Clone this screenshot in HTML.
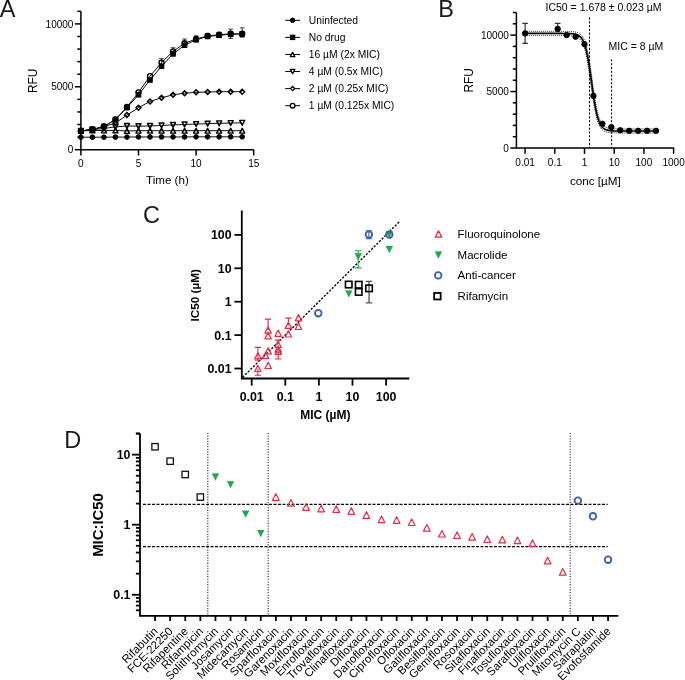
<!DOCTYPE html>
<html><head><meta charset="utf-8"><style>
html,body{margin:0;padding:0;background:#fff;}
body{width:685px;height:680px;overflow:hidden;font-family:"Liberation Sans",sans-serif;}
svg{display:block;will-change:transform;}
</style></head><body>
<svg width="685" height="680" viewBox="0 0 685 680">
<rect width="685" height="680" fill="#fff"/>
<g font-family="Liberation Sans, sans-serif" font-size="23.5" fill="#1a1a1a">
<text x="-0.2" y="17">A</text>
<text x="438.3" y="17">B</text>
<text x="142.9" y="222.8">C</text>
<text x="64.3" y="447.6">D</text>
</g>
<g stroke="#000" stroke-width="1.5" fill="none">
<path d="M80.9,11.32 V149.7 H253.7"/>
<path d="M74.9,149.7 H80.9"/>
<path d="M77.3,137.12 H80.9"/>
<path d="M77.3,124.54 H80.9"/>
<path d="M77.3,111.96 H80.9"/>
<path d="M77.3,99.38 H80.9"/>
<path d="M74.9,86.8 H80.9"/>
<path d="M77.3,74.22 H80.9"/>
<path d="M77.3,61.64 H80.9"/>
<path d="M77.3,49.06 H80.9"/>
<path d="M77.3,36.48 H80.9"/>
<path d="M74.9,23.9 H80.9"/>
<path d="M77.3,11.32 H80.9"/>
<path d="M80.9,149.7 V155.5"/>
<path d="M138.5,149.7 V155.5"/>
<path d="M196.1,149.7 V155.5"/>
<path d="M253.7,149.7 V155.5"/>
</g>
<g font-family="Liberation Sans, sans-serif" font-size="10" fill="#000">
<text x="73.4" y="153.3" text-anchor="end">0</text>
<text x="73.4" y="90.4" text-anchor="end">5000</text>
<text x="73.4" y="27.5" text-anchor="end">10000</text>
<text x="80.9" y="166.9" text-anchor="middle">0</text>
<text x="138.5" y="166.9" text-anchor="middle">5</text>
<text x="196.1" y="166.9" text-anchor="middle">10</text>
<text x="253.7" y="166.9" text-anchor="middle">15</text>
</g>
<text font-family="Liberation Sans, sans-serif" font-size="11.6" x="167.4" y="183.8" text-anchor="middle">Time (h)</text>
<text font-family="Liberation Sans, sans-serif" font-size="11.9" transform="translate(37,80.8) rotate(-90)" text-anchor="middle">RFU</text>
<g stroke="#111" stroke-width="1" fill="none">
<polyline points="80.9,137.19 92.42,137.19 103.94,137.19 115.46,137.07 126.98,137.07 138.5,136.94 150.02,136.94 161.54,136.94 173.06,136.94 184.58,136.94 196.1,136.82 207.62,136.82 219.14,136.82 230.66,136.82 242.18,136.82"/>
<polyline points="80.9,130.94 92.42,130.44 103.94,130.44 115.46,130.4 126.98,130.94 138.5,130.69 150.02,130.69 161.54,130.69 173.06,130.69 184.58,130.69 196.1,130.69 207.62,130.69 219.14,130.69 230.66,130.69 242.18,130.69"/>
<polyline points="80.9,130.94 92.42,129.69 103.94,128.44 115.46,126.9 126.98,125.94 138.5,126.19 150.02,125.94 161.54,125.44 173.06,124.94 184.58,124.44 196.1,124.06 207.62,123.69 219.14,123.31 230.66,123.06 242.18,122.81"/>
<polyline points="80.9,130.94 92.42,129.5 103.94,126.57 115.46,123 126.98,115.1 138.5,107.68 150.02,101.43 161.54,97.8 173.06,94.8 184.58,93.2 196.1,92.3 207.62,92 219.14,91.7 230.66,91.7 242.18,91.7"/>
<polyline points="80.9,130.94 92.42,129.5 103.94,126.5 115.46,119.5 126.98,107.61 138.5,94.8 150.02,79.98 161.54,66.29 173.06,53.91 184.58,45.22 196.1,39.78 207.62,36.53 219.14,35.28 230.66,34.28 242.18,34.03"/>
<polyline points="80.9,130.94 92.42,129.5 103.94,126.5 115.46,119.5 126.98,106.93 138.5,92.36 150.02,76.17 161.54,62.6 173.06,51.41 184.58,43.22 196.1,39.01 207.62,35.9 219.14,34.7 230.66,33.8 242.18,33.8"/>
</g>
<path d="M161.54,62.6 V58.66 M159.24,58.66 H163.84" stroke="#222" stroke-width="0.9" fill="none"/>
<path d="M161.54,62.6 V66.54 M159.24,66.54 H163.84" stroke="#222" stroke-width="0.9" fill="none"/>
<path d="M173.06,51.22 V47.78 M170.76,47.78 H175.36" stroke="#222" stroke-width="0.9" fill="none"/>
<path d="M173.06,51.22 V54.66 M170.76,54.66 H175.36" stroke="#222" stroke-width="0.9" fill="none"/>
<path d="M184.58,42.47 V39.03 M182.28,39.03 H186.88" stroke="#222" stroke-width="0.9" fill="none"/>
<path d="M184.58,42.47 V45.91 M182.28,45.91 H186.88" stroke="#222" stroke-width="0.9" fill="none"/>
<path d="M196.1,38.72 V35.9 M193.8,35.9 H198.4" stroke="#222" stroke-width="0.9" fill="none"/>
<path d="M196.1,38.72 V41.53 M193.8,41.53 H198.4" stroke="#222" stroke-width="0.9" fill="none"/>
<path d="M207.62,35.9 V33.4 M205.32,33.4 H209.92" stroke="#222" stroke-width="0.9" fill="none"/>
<path d="M207.62,35.9 V38.41 M205.32,38.41 H209.92" stroke="#222" stroke-width="0.9" fill="none"/>
<path d="M219.14,34.78 V32.4 M216.84,32.4 H221.44" stroke="#222" stroke-width="0.9" fill="none"/>
<path d="M219.14,34.78 V37.15 M216.84,37.15 H221.44" stroke="#222" stroke-width="0.9" fill="none"/>
<path d="M230.66,33.78 V29.15 M228.36,29.15 H232.96" stroke="#222" stroke-width="0.9" fill="none"/>
<path d="M230.66,33.78 V38.41 M228.36,38.41 H232.96" stroke="#222" stroke-width="0.9" fill="none"/>
<path d="M242.18,32.53 V27.9 M239.88,27.9 H244.48" stroke="#222" stroke-width="0.9" fill="none"/>
<path d="M242.18,32.53 V37.15 M239.88,37.15 H244.48" stroke="#222" stroke-width="0.9" fill="none"/>
<circle cx="80.9" cy="137.19" r="2.35" fill="#000" stroke="#000" stroke-width="1"/>
<circle cx="92.42" cy="137.19" r="2.35" fill="#000" stroke="#000" stroke-width="1"/>
<circle cx="103.94" cy="137.19" r="2.35" fill="#000" stroke="#000" stroke-width="1"/>
<circle cx="115.46" cy="137.07" r="2.35" fill="#000" stroke="#000" stroke-width="1"/>
<circle cx="126.98" cy="137.07" r="2.35" fill="#000" stroke="#000" stroke-width="1"/>
<circle cx="138.5" cy="136.94" r="2.35" fill="#000" stroke="#000" stroke-width="1"/>
<circle cx="150.02" cy="136.94" r="2.35" fill="#000" stroke="#000" stroke-width="1"/>
<circle cx="161.54" cy="136.94" r="2.35" fill="#000" stroke="#000" stroke-width="1"/>
<circle cx="173.06" cy="136.94" r="2.35" fill="#000" stroke="#000" stroke-width="1"/>
<circle cx="184.58" cy="136.94" r="2.35" fill="#000" stroke="#000" stroke-width="1"/>
<circle cx="196.1" cy="136.82" r="2.35" fill="#000" stroke="#000" stroke-width="1"/>
<circle cx="207.62" cy="136.82" r="2.35" fill="#000" stroke="#000" stroke-width="1"/>
<circle cx="219.14" cy="136.82" r="2.35" fill="#000" stroke="#000" stroke-width="1"/>
<circle cx="230.66" cy="136.82" r="2.35" fill="#000" stroke="#000" stroke-width="1"/>
<circle cx="242.18" cy="136.82" r="2.35" fill="#000" stroke="#000" stroke-width="1"/>
<polygon points="80.9,128.52 83.43,133.37 78.38,133.37" fill="none" stroke="#000" stroke-width="1.45" stroke-linejoin="round"/>
<polygon points="92.42,128.02 94.95,132.87 89.89,132.87" fill="none" stroke="#000" stroke-width="1.45" stroke-linejoin="round"/>
<polygon points="103.94,128.02 106.47,132.87 101.41,132.87" fill="none" stroke="#000" stroke-width="1.45" stroke-linejoin="round"/>
<polygon points="115.46,127.98 117.99,132.83 112.94,132.83" fill="none" stroke="#000" stroke-width="1.45" stroke-linejoin="round"/>
<polygon points="126.98,128.52 129.5,133.37 124.45,133.37" fill="none" stroke="#000" stroke-width="1.45" stroke-linejoin="round"/>
<polygon points="138.5,128.27 141.03,133.12 135.97,133.12" fill="none" stroke="#000" stroke-width="1.45" stroke-linejoin="round"/>
<polygon points="150.02,128.27 152.55,133.12 147.5,133.12" fill="none" stroke="#000" stroke-width="1.45" stroke-linejoin="round"/>
<polygon points="161.54,128.27 164.07,133.12 159.02,133.12" fill="none" stroke="#000" stroke-width="1.45" stroke-linejoin="round"/>
<polygon points="173.06,128.27 175.59,133.12 170.53,133.12" fill="none" stroke="#000" stroke-width="1.45" stroke-linejoin="round"/>
<polygon points="184.58,128.27 187.1,133.12 182.05,133.12" fill="none" stroke="#000" stroke-width="1.45" stroke-linejoin="round"/>
<polygon points="196.1,128.27 198.62,133.12 193.57,133.12" fill="none" stroke="#000" stroke-width="1.45" stroke-linejoin="round"/>
<polygon points="207.62,128.27 210.15,133.12 205.09,133.12" fill="none" stroke="#000" stroke-width="1.45" stroke-linejoin="round"/>
<polygon points="219.14,128.27 221.67,133.12 216.62,133.12" fill="none" stroke="#000" stroke-width="1.45" stroke-linejoin="round"/>
<polygon points="230.66,128.27 233.19,133.12 228.13,133.12" fill="none" stroke="#000" stroke-width="1.45" stroke-linejoin="round"/>
<polygon points="242.18,128.27 244.71,133.12 239.66,133.12" fill="none" stroke="#000" stroke-width="1.45" stroke-linejoin="round"/>
<polygon points="80.9,133.37 83.43,128.52 78.38,128.52" fill="none" stroke="#000" stroke-width="1.45" stroke-linejoin="round"/>
<polygon points="92.42,132.12 94.95,127.27 89.89,127.27" fill="none" stroke="#000" stroke-width="1.45" stroke-linejoin="round"/>
<polygon points="103.94,130.87 106.47,126.02 101.41,126.02" fill="none" stroke="#000" stroke-width="1.45" stroke-linejoin="round"/>
<polygon points="115.46,129.33 117.99,124.48 112.94,124.48" fill="none" stroke="#000" stroke-width="1.45" stroke-linejoin="round"/>
<polygon points="126.98,128.37 129.5,123.52 124.45,123.52" fill="none" stroke="#000" stroke-width="1.45" stroke-linejoin="round"/>
<polygon points="138.5,128.62 141.03,123.77 135.97,123.77" fill="none" stroke="#000" stroke-width="1.45" stroke-linejoin="round"/>
<polygon points="150.02,128.37 152.55,123.52 147.5,123.52" fill="none" stroke="#000" stroke-width="1.45" stroke-linejoin="round"/>
<polygon points="161.54,127.87 164.07,123.02 159.02,123.02" fill="none" stroke="#000" stroke-width="1.45" stroke-linejoin="round"/>
<polygon points="173.06,127.37 175.59,122.52 170.53,122.52" fill="none" stroke="#000" stroke-width="1.45" stroke-linejoin="round"/>
<polygon points="184.58,126.86 187.1,122.01 182.05,122.01" fill="none" stroke="#000" stroke-width="1.45" stroke-linejoin="round"/>
<polygon points="196.1,126.49 198.62,121.64 193.57,121.64" fill="none" stroke="#000" stroke-width="1.45" stroke-linejoin="round"/>
<polygon points="207.62,126.11 210.15,121.26 205.09,121.26" fill="none" stroke="#000" stroke-width="1.45" stroke-linejoin="round"/>
<polygon points="219.14,125.74 221.67,120.89 216.62,120.89" fill="none" stroke="#000" stroke-width="1.45" stroke-linejoin="round"/>
<polygon points="230.66,125.49 233.19,120.64 228.13,120.64" fill="none" stroke="#000" stroke-width="1.45" stroke-linejoin="round"/>
<polygon points="242.18,125.24 244.71,120.39 239.66,120.39" fill="none" stroke="#000" stroke-width="1.45" stroke-linejoin="round"/>
<polygon points="80.9,128.43 83.41,130.94 80.9,133.45 78.39,130.94" fill="none" stroke="#000" stroke-width="1.4" stroke-miterlimit="10"/>
<polygon points="92.42,126.99 94.93,129.5 92.42,132.01 89.91,129.5" fill="none" stroke="#000" stroke-width="1.4" stroke-miterlimit="10"/>
<polygon points="103.94,124.06 106.45,126.57 103.94,129.08 101.43,126.57" fill="none" stroke="#000" stroke-width="1.4" stroke-miterlimit="10"/>
<polygon points="115.46,120.49 117.97,123 115.46,125.51 112.95,123" fill="none" stroke="#000" stroke-width="1.4" stroke-miterlimit="10"/>
<polygon points="126.98,112.59 129.49,115.1 126.98,117.61 124.47,115.1" fill="none" stroke="#000" stroke-width="1.4" stroke-miterlimit="10"/>
<polygon points="138.5,105.17 141.01,107.68 138.5,110.19 135.99,107.68" fill="none" stroke="#000" stroke-width="1.4" stroke-miterlimit="10"/>
<polygon points="150.02,98.92 152.53,101.43 150.02,103.94 147.51,101.43" fill="none" stroke="#000" stroke-width="1.4" stroke-miterlimit="10"/>
<polygon points="161.54,95.29 164.05,97.8 161.54,100.31 159.03,97.8" fill="none" stroke="#000" stroke-width="1.4" stroke-miterlimit="10"/>
<polygon points="173.06,92.29 175.57,94.8 173.06,97.31 170.55,94.8" fill="none" stroke="#000" stroke-width="1.4" stroke-miterlimit="10"/>
<polygon points="184.58,90.69 187.09,93.2 184.58,95.71 182.07,93.2" fill="none" stroke="#000" stroke-width="1.4" stroke-miterlimit="10"/>
<polygon points="196.1,89.79 198.61,92.3 196.1,94.81 193.59,92.3" fill="none" stroke="#000" stroke-width="1.4" stroke-miterlimit="10"/>
<polygon points="207.62,89.49 210.13,92 207.62,94.51 205.11,92" fill="none" stroke="#000" stroke-width="1.4" stroke-miterlimit="10"/>
<polygon points="219.14,89.19 221.65,91.7 219.14,94.21 216.63,91.7" fill="none" stroke="#000" stroke-width="1.4" stroke-miterlimit="10"/>
<polygon points="230.66,89.19 233.17,91.7 230.66,94.21 228.15,91.7" fill="none" stroke="#000" stroke-width="1.4" stroke-miterlimit="10"/>
<polygon points="242.18,89.19 244.69,91.7 242.18,94.21 239.67,91.7" fill="none" stroke="#000" stroke-width="1.4" stroke-miterlimit="10"/>
<rect x="78.65" y="128.69" width="4.5" height="4.5" fill="#000" stroke="#000" stroke-width="1"/>
<rect x="90.17" y="127.25" width="4.5" height="4.5" fill="#000" stroke="#000" stroke-width="1"/>
<rect x="101.69" y="124.25" width="4.5" height="4.5" fill="#000" stroke="#000" stroke-width="1"/>
<rect x="113.21" y="117.25" width="4.5" height="4.5" fill="#000" stroke="#000" stroke-width="1"/>
<rect x="124.73" y="105.36" width="4.5" height="4.5" fill="#000" stroke="#000" stroke-width="1"/>
<rect x="136.25" y="92.55" width="4.5" height="4.5" fill="#000" stroke="#000" stroke-width="1"/>
<rect x="147.77" y="77.73" width="4.5" height="4.5" fill="#000" stroke="#000" stroke-width="1"/>
<rect x="159.29" y="64.04" width="4.5" height="4.5" fill="#000" stroke="#000" stroke-width="1"/>
<rect x="170.81" y="51.66" width="4.5" height="4.5" fill="#000" stroke="#000" stroke-width="1"/>
<rect x="182.33" y="42.97" width="4.5" height="4.5" fill="#000" stroke="#000" stroke-width="1"/>
<rect x="193.85" y="37.53" width="4.5" height="4.5" fill="#000" stroke="#000" stroke-width="1"/>
<rect x="205.37" y="34.28" width="4.5" height="4.5" fill="#000" stroke="#000" stroke-width="1"/>
<rect x="216.89" y="33.03" width="4.5" height="4.5" fill="#000" stroke="#000" stroke-width="1"/>
<rect x="228.41" y="32.03" width="4.5" height="4.5" fill="#000" stroke="#000" stroke-width="1"/>
<rect x="239.93" y="31.78" width="4.5" height="4.5" fill="#000" stroke="#000" stroke-width="1"/>
<circle cx="80.9" cy="130.94" r="2.5" fill="none" stroke="#000" stroke-width="1.4"/>
<circle cx="92.42" cy="129.5" r="2.5" fill="none" stroke="#000" stroke-width="1.4"/>
<circle cx="103.94" cy="126.5" r="2.5" fill="none" stroke="#000" stroke-width="1.4"/>
<circle cx="115.46" cy="119.5" r="2.5" fill="none" stroke="#000" stroke-width="1.4"/>
<circle cx="126.98" cy="106.93" r="2.5" fill="none" stroke="#000" stroke-width="1.4"/>
<circle cx="138.5" cy="92.36" r="2.5" fill="none" stroke="#000" stroke-width="1.4"/>
<circle cx="150.02" cy="76.17" r="2.5" fill="none" stroke="#000" stroke-width="1.4"/>
<circle cx="161.54" cy="62.6" r="2.5" fill="none" stroke="#000" stroke-width="1.4"/>
<circle cx="173.06" cy="51.41" r="2.5" fill="none" stroke="#000" stroke-width="1.4"/>
<circle cx="184.58" cy="43.22" r="2.5" fill="none" stroke="#000" stroke-width="1.4"/>
<circle cx="196.1" cy="39.01" r="2.5" fill="none" stroke="#000" stroke-width="1.4"/>
<circle cx="207.62" cy="35.9" r="2.5" fill="none" stroke="#000" stroke-width="1.4"/>
<circle cx="219.14" cy="34.7" r="2.5" fill="none" stroke="#000" stroke-width="1.4"/>
<circle cx="230.66" cy="33.8" r="2.5" fill="none" stroke="#000" stroke-width="1.4"/>
<circle cx="242.18" cy="33.8" r="2.5" fill="none" stroke="#000" stroke-width="1.4"/>
<g stroke="#000" stroke-width="1">
<path d="M285.2,20.3 H300"/>
<path d="M285.2,37.38 H300"/>
<path d="M285.2,54.46 H300"/>
<path d="M285.2,71.54 H300"/>
<path d="M285.2,88.62 H300"/>
<path d="M285.2,105.7 H300"/>
</g>
<circle cx="292.6" cy="20.3" r="2.25" fill="#000" stroke="#000" stroke-width="1"/>
<rect x="290.4" y="35.18" width="4.4" height="4.4" fill="#000" stroke="#000" stroke-width="1"/>
<polygon points="292.6,52.31 294.85,56.61 290.35,56.61" fill="#fff" stroke="#000" stroke-width="1.3" stroke-linejoin="round"/>
<polygon points="292.6,73.69 294.85,69.39 290.35,69.39" fill="#fff" stroke="#000" stroke-width="1.3" stroke-linejoin="round"/>
<polygon points="292.6,86.54 294.68,88.62 292.6,90.7 290.52,88.62" fill="#fff" stroke="#000" stroke-width="1.3" stroke-miterlimit="10"/>
<circle cx="292.6" cy="105.7" r="2.3" fill="#fff" stroke="#000" stroke-width="1.4"/>
<g font-family="Liberation Sans, sans-serif" font-size="10.3" fill="#000">
<text x="308.8" y="24">Uninfected</text>
<text x="308.8" y="41.08">No drug</text>
<text x="308.8" y="58.16">16 µM (2x MIC)</text>
<text x="308.8" y="75.24">4 µM (0.5x MIC)</text>
<text x="308.8" y="92.32">2 µM (0.25x MIC)</text>
<text x="308.8" y="109.4">1 µM (0.125x MIC)</text>
</g>
<g stroke="#000" stroke-width="1.5" fill="none">
<path d="M516.4,12.52 V148 H674.2"/>
<path d="M510.4,148 H516.4"/>
<path d="M512.8,136.71 H516.4"/>
<path d="M512.8,125.42 H516.4"/>
<path d="M512.8,114.13 H516.4"/>
<path d="M512.8,102.84 H516.4"/>
<path d="M510.4,91.55 H516.4"/>
<path d="M512.8,80.26 H516.4"/>
<path d="M512.8,68.97 H516.4"/>
<path d="M512.8,57.68 H516.4"/>
<path d="M512.8,46.39 H516.4"/>
<path d="M510.4,35.1 H516.4"/>
<path d="M512.8,23.81 H516.4"/>
<path d="M512.8,12.52 H516.4"/>
<path d="M525.1,148 V153.8"/>
<path d="M554.8,148 V153.8"/>
<path d="M584.5,148 V153.8"/>
<path d="M614.2,148 V153.8"/>
<path d="M643.9,148 V153.8"/>
<path d="M673.6,148 V153.8"/>
</g>
<g font-family="Liberation Sans, sans-serif" font-size="10" fill="#000">
<text x="508.8" y="151.6" text-anchor="end">0</text>
<text x="508.8" y="95.15" text-anchor="end">5000</text>
<text x="508.8" y="38.7" text-anchor="end">10000</text>
<text x="525.1" y="165.5" text-anchor="middle">0.01</text>
<text x="554.8" y="165.5" text-anchor="middle">0.1</text>
<text x="584.5" y="165.5" text-anchor="middle">1</text>
<text x="614.2" y="165.5" text-anchor="middle">10</text>
<text x="643.9" y="165.5" text-anchor="middle">100</text>
<text x="673.6" y="165.5" text-anchor="middle">1000</text>
</g>
<text font-family="Liberation Sans, sans-serif" font-size="11.7" x="595.4" y="185" text-anchor="middle">conc [µM]</text>
<text font-family="Liberation Sans, sans-serif" font-size="11.9" transform="translate(472.6,80.4) rotate(-90)" text-anchor="middle">RFU</text>
<text font-family="Liberation Sans, sans-serif" font-size="10.5" x="545.5" y="11.2">IC50 = 1.678 ± 0.023 µM</text>
<text font-family="Liberation Sans, sans-serif" font-size="10.5" x="608.5" y="50.4">MIC = 8 µM</text>
<g stroke="#000" stroke-width="1" stroke-dasharray="2.2,1.6" fill="none">
<path d="M589.5,17.4 V148"/>
<path d="M611.6,59.3 V148"/>
</g>
<polyline points="525.1,31.37 525.4,31.37 525.69,31.37 525.99,31.37 526.29,31.37 526.59,31.37 526.88,31.37 527.18,31.37 527.48,31.37 527.77,31.37 528.07,31.37 528.37,31.37 528.66,31.37 528.96,31.37 529.26,31.37 529.56,31.37 529.85,31.37 530.15,31.37 530.45,31.37 530.74,31.37 531.04,31.37 531.34,31.37 531.63,31.37 531.93,31.37 532.23,31.37 532.52,31.37 532.82,31.37 533.12,31.37 533.42,31.37 533.71,31.37 534.01,31.37 534.31,31.37 534.6,31.37 534.9,31.37 535.2,31.37 535.5,31.37 535.79,31.37 536.09,31.37 536.39,31.37 536.68,31.37 536.98,31.37 537.28,31.37 537.57,31.37 537.87,31.37 538.17,31.37 538.47,31.37 538.76,31.37 539.06,31.37 539.36,31.37 539.65,31.37 539.95,31.37 540.25,31.37 540.54,31.37 540.84,31.37 541.14,31.37 541.44,31.37 541.73,31.37 542.03,31.37 542.33,31.37 542.62,31.37 542.92,31.37 543.22,31.37 543.51,31.37 543.81,31.37 544.11,31.37 544.4,31.37 544.7,31.37 545,31.37 545.3,31.37 545.59,31.37 545.89,31.37 546.19,31.37 546.48,31.37 546.78,31.37 547.08,31.37 547.38,31.37 547.67,31.37 547.97,31.37 548.27,31.37 548.56,31.37 548.86,31.37 549.16,31.37 549.45,31.37 549.75,31.37 550.05,31.37 550.35,31.37 550.64,31.37 550.94,31.37 551.24,31.37 551.53,31.37 551.83,31.37 552.13,31.38 552.42,31.38 552.72,31.38 553.02,31.38 553.32,31.38 553.61,31.38 553.91,31.38 554.21,31.38 554.5,31.38 554.8,31.38 555.1,31.38 555.39,31.38 555.69,31.38 555.99,31.38 556.29,31.38 556.58,31.38 556.88,31.38 557.18,31.38 557.47,31.38 557.77,31.38 558.07,31.38 558.36,31.38 558.66,31.38 558.96,31.38 559.25,31.38 559.55,31.38 559.85,31.38 560.15,31.38 560.44,31.38 560.74,31.38 561.04,31.38 561.33,31.39 561.63,31.39 561.93,31.39 562.23,31.39 562.52,31.39 562.82,31.39 563.12,31.39 563.41,31.39 563.71,31.4 564.01,31.4 564.3,31.4 564.6,31.4 564.9,31.41 565.2,31.41 565.49,31.41 565.79,31.41 566.09,31.42 566.38,31.42 566.68,31.43 566.98,31.43 567.27,31.44 567.57,31.44 567.87,31.45 568.17,31.46 568.46,31.46 568.76,31.47 569.06,31.48 569.35,31.49 569.65,31.5 569.95,31.51 570.24,31.52 570.54,31.54 570.84,31.55 571.13,31.57 571.43,31.59 571.73,31.61 572.03,31.63 572.32,31.65 572.62,31.68 572.92,31.7 573.21,31.73 573.51,31.77 573.81,31.8 574.11,31.84 574.4,31.88 574.7,31.93 575,31.98 575.29,32.04 575.59,32.1 575.89,32.16 576.18,32.23 576.48,32.31 576.78,32.39 577.08,32.49 577.37,32.59 577.67,32.7 577.97,32.82 578.26,32.95 578.56,33.09 578.86,33.24 579.15,33.41 579.45,33.59 579.75,33.79 580.05,34 580.34,34.24 580.64,34.49 580.94,34.76 581.23,35.06 581.53,35.39 581.83,35.74 582.12,36.11 582.42,36.53 582.72,36.97 583.02,37.45 583.31,37.97 583.61,38.53 583.91,39.13 584.2,39.78 584.5,40.47 584.8,41.22 585.09,42.02 585.39,42.88 585.69,43.8 585.99,44.78 586.28,45.83 586.58,46.94 586.88,48.11 587.17,49.36 587.47,50.68 587.77,52.07 588.06,53.54 588.36,55.07 588.66,56.68 588.96,58.35 589.25,60.09 589.55,61.9 589.85,63.77 590.14,65.69 590.44,67.66 590.74,69.67 591.03,71.73 591.33,73.82 591.63,75.93 591.93,78.05 592.22,80.19 592.52,82.32 592.82,84.45 593.11,86.56 593.41,88.65 593.71,90.7 594,92.72 594.3,94.69 594.6,96.61 594.9,98.48 595.19,100.29 595.49,102.03 595.79,103.71 596.08,105.31 596.38,106.85 596.68,108.31 596.97,109.7 597.27,111.02 597.57,112.27 597.87,113.45 598.16,114.57 598.46,115.61 598.76,116.59 599.05,117.51 599.35,118.37 599.65,119.18 599.94,119.92 600.24,120.62 600.54,121.27 600.84,121.87 601.13,122.43 601.43,122.95 601.73,123.43 602.02,123.88 602.32,124.29 602.62,124.67 602.91,125.02 603.21,125.34 603.51,125.64 603.81,125.91 604.1,126.17 604.4,126.4 604.7,126.62 604.99,126.81 605.29,127 605.59,127.16 605.88,127.32 606.18,127.46 606.48,127.59 606.78,127.71 607.07,127.82 607.37,127.92 607.67,128.01 607.96,128.1 608.26,128.17 608.56,128.24 608.85,128.31 609.15,128.37 609.45,128.43 609.75,128.48 610.04,128.52 610.34,128.57 610.64,128.6 610.93,128.64 611.23,128.67 611.53,128.7 611.82,128.73 612.12,128.76 612.42,128.78 612.72,128.8 613.01,128.82 613.31,128.84 613.61,128.85 613.9,128.87 614.2,128.88 614.5,128.89 614.79,128.91 615.09,128.92 615.39,128.93 615.69,128.94 615.98,128.94 616.28,128.95 616.58,128.96 616.87,128.96 617.17,128.97 617.47,128.98 617.76,128.98 618.06,128.98 618.36,128.99 618.66,128.99 618.95,129 619.25,129 619.55,129 619.84,129 620.14,129.01 620.44,129.01 620.73,129.01 621.03,129.01 621.33,129.01 621.63,129.02 621.92,129.02 622.22,129.02 622.52,129.02 622.81,129.02 623.11,129.02 623.41,129.02 623.7,129.02 624,129.02 624.3,129.03 624.6,129.03 624.89,129.03 625.19,129.03 625.49,129.03 625.78,129.03 626.08,129.03 626.38,129.03 626.67,129.03 626.97,129.03 627.27,129.03 627.57,129.03 627.86,129.03 628.16,129.03 628.46,129.03 628.75,129.03 629.05,129.03 629.35,129.03 629.64,129.03 629.94,129.03 630.24,129.03 630.54,129.03 630.83,129.03 631.13,129.03 631.43,129.03 631.72,129.03 632.02,129.03 632.32,129.03 632.61,129.03 632.91,129.03 633.21,129.03 633.51,129.03 633.8,129.03 634.1,129.03 634.4,129.03 634.69,129.03 634.99,129.03 635.29,129.03 635.58,129.03 635.88,129.03 636.18,129.03 636.48,129.03 636.77,129.03 637.07,129.03 637.37,129.03 637.66,129.03 637.96,129.03 638.26,129.03 638.55,129.03 638.85,129.03 639.15,129.03 639.45,129.03 639.74,129.03 640.04,129.03 640.34,129.03 640.63,129.03 640.93,129.03 641.23,129.03 641.52,129.03 641.82,129.03 642.12,129.03 642.42,129.03 642.71,129.03 643.01,129.03 643.31,129.03 643.6,129.03 643.9,129.03 644.2,129.03 644.49,129.03 644.79,129.03 645.09,129.03 645.39,129.03 645.68,129.03 645.98,129.03 646.28,129.03 646.57,129.03 646.87,129.03 647.17,129.03 647.46,129.03 647.76,129.03 648.06,129.03 648.36,129.03 648.65,129.03 648.95,129.03 649.25,129.03 649.54,129.03 649.84,129.03 650.14,129.03 650.43,129.03 650.73,129.03 651.03,129.03 651.32,129.03 651.62,129.03 651.92,129.03 652.22,129.03 652.51,129.03 652.81,129.03 653.11,129.03 653.4,129.03 653.7,129.03 654,129.03 654.29,129.03 654.59,129.03 654.89,129.03 655.19,129.03 655.48,129.03 655.78,129.03" fill="none" stroke="#000" stroke-width="1" stroke-dasharray="1,1"/>
<polyline points="525.1,35.44 525.4,35.44 525.69,35.44 525.99,35.44 526.29,35.44 526.59,35.44 526.88,35.44 527.18,35.44 527.48,35.44 527.77,35.44 528.07,35.44 528.37,35.44 528.66,35.44 528.96,35.44 529.26,35.44 529.56,35.44 529.85,35.44 530.15,35.44 530.45,35.44 530.74,35.44 531.04,35.44 531.34,35.44 531.63,35.44 531.93,35.44 532.23,35.44 532.52,35.44 532.82,35.44 533.12,35.44 533.42,35.44 533.71,35.44 534.01,35.44 534.31,35.44 534.6,35.44 534.9,35.44 535.2,35.44 535.5,35.44 535.79,35.44 536.09,35.44 536.39,35.44 536.68,35.44 536.98,35.44 537.28,35.44 537.57,35.44 537.87,35.44 538.17,35.44 538.47,35.44 538.76,35.44 539.06,35.44 539.36,35.44 539.65,35.44 539.95,35.44 540.25,35.44 540.54,35.44 540.84,35.44 541.14,35.44 541.44,35.44 541.73,35.44 542.03,35.44 542.33,35.44 542.62,35.44 542.92,35.44 543.22,35.44 543.51,35.44 543.81,35.44 544.11,35.44 544.4,35.44 544.7,35.44 545,35.44 545.3,35.44 545.59,35.44 545.89,35.44 546.19,35.44 546.48,35.44 546.78,35.44 547.08,35.44 547.38,35.44 547.67,35.44 547.97,35.44 548.27,35.44 548.56,35.44 548.86,35.44 549.16,35.44 549.45,35.44 549.75,35.44 550.05,35.44 550.35,35.44 550.64,35.44 550.94,35.44 551.24,35.44 551.53,35.44 551.83,35.44 552.13,35.44 552.42,35.44 552.72,35.44 553.02,35.44 553.32,35.44 553.61,35.44 553.91,35.44 554.21,35.44 554.5,35.44 554.8,35.44 555.1,35.44 555.39,35.44 555.69,35.44 555.99,35.44 556.29,35.44 556.58,35.44 556.88,35.44 557.18,35.44 557.47,35.44 557.77,35.44 558.07,35.44 558.36,35.45 558.66,35.45 558.96,35.45 559.25,35.45 559.55,35.45 559.85,35.45 560.15,35.45 560.44,35.45 560.74,35.45 561.04,35.45 561.33,35.45 561.63,35.46 561.93,35.46 562.23,35.46 562.52,35.46 562.82,35.46 563.12,35.47 563.41,35.47 563.71,35.47 564.01,35.47 564.3,35.48 564.6,35.48 564.9,35.48 565.2,35.49 565.49,35.49 565.79,35.5 566.09,35.5 566.38,35.51 566.68,35.52 566.98,35.52 567.27,35.53 567.57,35.54 567.87,35.55 568.17,35.56 568.46,35.57 568.76,35.58 569.06,35.6 569.35,35.61 569.65,35.63 569.95,35.64 570.24,35.66 570.54,35.68 570.84,35.7 571.13,35.73 571.43,35.75 571.73,35.78 572.03,35.81 572.32,35.85 572.62,35.89 572.92,35.93 573.21,35.97 573.51,36.02 573.81,36.07 574.11,36.13 574.4,36.19 574.7,36.26 575,36.34 575.29,36.42 575.59,36.51 575.89,36.6 576.18,36.71 576.48,36.82 576.78,36.95 577.08,37.08 577.37,37.23 577.67,37.39 577.97,37.56 578.26,37.75 578.56,37.96 578.86,38.18 579.15,38.43 579.45,38.69 579.75,38.98 580.05,39.29 580.34,39.62 580.64,39.99 580.94,40.38 581.23,40.81 581.53,41.27 581.83,41.77 582.12,42.31 582.42,42.89 582.72,43.52 583.02,44.19 583.31,44.91 583.61,45.69 583.91,46.52 584.2,47.41 584.5,48.35 584.8,49.37 585.09,50.44 585.39,51.59 585.69,52.8 585.99,54.09 586.28,55.44 586.58,56.87 586.88,58.37 587.17,59.94 587.47,61.58 587.77,63.29 588.06,65.06 588.36,66.9 588.66,68.79 588.96,70.73 589.25,72.73 589.55,74.76 589.85,76.83 590.14,78.93 590.44,81.05 590.74,83.18 591.03,85.31 591.33,87.44 591.63,89.56 591.93,91.65 592.22,93.72 592.52,95.76 592.82,97.75 593.11,99.69 593.41,101.59 593.71,103.42 594,105.19 594.3,106.9 594.6,108.53 594.9,110.1 595.19,111.6 595.49,113.02 595.79,114.38 596.08,115.66 596.38,116.87 596.68,118.01 596.97,119.09 597.27,120.1 597.57,121.05 597.87,121.93 598.16,122.76 598.46,123.54 598.76,124.26 599.05,124.93 599.35,125.55 599.65,126.13 599.94,126.67 600.24,127.16 600.54,127.63 600.84,128.05 601.13,128.45 601.43,128.81 601.73,129.15 602.02,129.46 602.32,129.74 602.62,130 602.91,130.25 603.21,130.47 603.51,130.68 603.81,130.87 604.1,131.04 604.4,131.2 604.7,131.35 604.99,131.48 605.29,131.61 605.59,131.72 605.88,131.82 606.18,131.92 606.48,132.01 606.78,132.09 607.07,132.16 607.37,132.23 607.67,132.29 607.96,132.35 608.26,132.4 608.56,132.45 608.85,132.5 609.15,132.54 609.45,132.58 609.75,132.61 610.04,132.64 610.34,132.67 610.64,132.7 610.93,132.72 611.23,132.74 611.53,132.76 611.82,132.78 612.12,132.8 612.42,132.81 612.72,132.83 613.01,132.84 613.31,132.85 613.61,132.86 613.9,132.87 614.2,132.88 614.5,132.89 614.79,132.9 615.09,132.91 615.39,132.91 615.69,132.92 615.98,132.92 616.28,132.93 616.58,132.93 616.87,132.94 617.17,132.94 617.47,132.95 617.76,132.95 618.06,132.95 618.36,132.95 618.66,132.96 618.95,132.96 619.25,132.96 619.55,132.96 619.84,132.97 620.14,132.97 620.44,132.97 620.73,132.97 621.03,132.97 621.33,132.97 621.63,132.97 621.92,132.97 622.22,132.97 622.52,132.98 622.81,132.98 623.11,132.98 623.41,132.98 623.7,132.98 624,132.98 624.3,132.98 624.6,132.98 624.89,132.98 625.19,132.98 625.49,132.98 625.78,132.98 626.08,132.98 626.38,132.98 626.67,132.98 626.97,132.98 627.27,132.98 627.57,132.98 627.86,132.98 628.16,132.98 628.46,132.98 628.75,132.98 629.05,132.98 629.35,132.98 629.64,132.98 629.94,132.98 630.24,132.98 630.54,132.98 630.83,132.98 631.13,132.98 631.43,132.98 631.72,132.98 632.02,132.98 632.32,132.98 632.61,132.98 632.91,132.98 633.21,132.98 633.51,132.98 633.8,132.98 634.1,132.98 634.4,132.98 634.69,132.98 634.99,132.98 635.29,132.98 635.58,132.98 635.88,132.98 636.18,132.98 636.48,132.98 636.77,132.98 637.07,132.98 637.37,132.98 637.66,132.98 637.96,132.98 638.26,132.98 638.55,132.98 638.85,132.98 639.15,132.98 639.45,132.98 639.74,132.98 640.04,132.98 640.34,132.98 640.63,132.98 640.93,132.98 641.23,132.98 641.52,132.98 641.82,132.98 642.12,132.98 642.42,132.98 642.71,132.98 643.01,132.98 643.31,132.98 643.6,132.98 643.9,132.98 644.2,132.98 644.49,132.98 644.79,132.98 645.09,132.98 645.39,132.98 645.68,132.98 645.98,132.98 646.28,132.98 646.57,132.98 646.87,132.98 647.17,132.98 647.46,132.98 647.76,132.98 648.06,132.98 648.36,132.98 648.65,132.98 648.95,132.98 649.25,132.98 649.54,132.98 649.84,132.98 650.14,132.98 650.43,132.98 650.73,132.98 651.03,132.98 651.32,132.98 651.62,132.98 651.92,132.98 652.22,132.98 652.51,132.98 652.81,132.98 653.11,132.98 653.4,132.98 653.7,132.98 654,132.98 654.29,132.98 654.59,132.98 654.89,132.98 655.19,132.98 655.48,132.98 655.78,132.98" fill="none" stroke="#000" stroke-width="1" stroke-dasharray="1,1"/>
<polyline points="525.1,33.41 525.4,33.41 525.69,33.41 525.99,33.41 526.29,33.41 526.59,33.41 526.88,33.41 527.18,33.41 527.48,33.41 527.77,33.41 528.07,33.41 528.37,33.41 528.66,33.41 528.96,33.41 529.26,33.41 529.56,33.41 529.85,33.41 530.15,33.41 530.45,33.41 530.74,33.41 531.04,33.41 531.34,33.41 531.63,33.41 531.93,33.41 532.23,33.41 532.52,33.41 532.82,33.41 533.12,33.41 533.42,33.41 533.71,33.41 534.01,33.41 534.31,33.41 534.6,33.41 534.9,33.41 535.2,33.41 535.5,33.41 535.79,33.41 536.09,33.41 536.39,33.41 536.68,33.41 536.98,33.41 537.28,33.41 537.57,33.41 537.87,33.41 538.17,33.41 538.47,33.41 538.76,33.41 539.06,33.41 539.36,33.41 539.65,33.41 539.95,33.41 540.25,33.41 540.54,33.41 540.84,33.41 541.14,33.41 541.44,33.41 541.73,33.41 542.03,33.41 542.33,33.41 542.62,33.41 542.92,33.41 543.22,33.41 543.51,33.41 543.81,33.41 544.11,33.41 544.4,33.41 544.7,33.41 545,33.41 545.3,33.41 545.59,33.41 545.89,33.41 546.19,33.41 546.48,33.41 546.78,33.41 547.08,33.41 547.38,33.41 547.67,33.41 547.97,33.41 548.27,33.41 548.56,33.41 548.86,33.41 549.16,33.41 549.45,33.41 549.75,33.41 550.05,33.41 550.35,33.41 550.64,33.41 550.94,33.41 551.24,33.41 551.53,33.41 551.83,33.41 552.13,33.41 552.42,33.41 552.72,33.41 553.02,33.41 553.32,33.41 553.61,33.41 553.91,33.41 554.21,33.41 554.5,33.41 554.8,33.41 555.1,33.41 555.39,33.41 555.69,33.41 555.99,33.41 556.29,33.41 556.58,33.41 556.88,33.41 557.18,33.41 557.47,33.41 557.77,33.41 558.07,33.41 558.36,33.41 558.66,33.41 558.96,33.41 559.25,33.41 559.55,33.41 559.85,33.42 560.15,33.42 560.44,33.42 560.74,33.42 561.04,33.42 561.33,33.42 561.63,33.42 561.93,33.42 562.23,33.42 562.52,33.43 562.82,33.43 563.12,33.43 563.41,33.43 563.71,33.43 564.01,33.44 564.3,33.44 564.6,33.44 564.9,33.44 565.2,33.45 565.49,33.45 565.79,33.46 566.09,33.46 566.38,33.46 566.68,33.47 566.98,33.48 567.27,33.48 567.57,33.49 567.87,33.5 568.17,33.51 568.46,33.51 568.76,33.52 569.06,33.53 569.35,33.55 569.65,33.56 569.95,33.57 570.24,33.59 570.54,33.61 570.84,33.62 571.13,33.64 571.43,33.66 571.73,33.69 572.03,33.71 572.32,33.74 572.62,33.77 572.92,33.81 573.21,33.84 573.51,33.88 573.81,33.93 574.11,33.97 574.4,34.02 574.7,34.08 575,34.14 575.29,34.21 575.59,34.28 575.89,34.36 576.18,34.45 576.48,34.54 576.78,34.64 577.08,34.75 577.37,34.87 577.67,35.01 577.97,35.15 578.26,35.31 578.56,35.48 578.86,35.66 579.15,35.86 579.45,36.08 579.75,36.32 580.05,36.57 580.34,36.85 580.64,37.16 580.94,37.49 581.23,37.84 581.53,38.23 581.83,38.64 582.12,39.1 582.42,39.58 582.72,40.11 583.02,40.68 583.31,41.29 583.61,41.95 583.91,42.65 584.2,43.41 584.5,44.22 584.8,45.1 585.09,46.03 585.39,47.02 585.69,48.08 585.99,49.2 586.28,50.39 586.58,51.66 586.88,52.99 587.17,54.4 587.47,55.88 587.77,57.42 588.06,59.04 588.36,60.73 588.66,62.49 588.96,64.31 589.25,66.18 589.55,68.11 589.85,70.1 590.14,72.12 590.44,74.18 590.74,76.27 591.03,78.39 591.33,80.52 591.63,82.65 591.93,84.79 592.22,86.91 592.52,89.02 592.82,91.1 593.11,93.15 593.41,95.16 593.71,97.12 594,99.03 594.3,100.88 594.6,102.68 594.9,104.41 595.19,106.07 595.49,107.66 595.79,109.18 596.08,110.63 596.38,112.01 596.68,113.32 596.97,114.55 597.27,115.72 597.57,116.82 597.87,117.85 598.16,118.82 598.46,119.72 598.76,120.57 599.05,121.36 599.35,122.1 599.65,122.79 599.94,123.43 600.24,124.02 600.54,124.57 600.84,125.08 601.13,125.56 601.43,125.99 601.73,126.4 602.02,126.77 602.32,127.12 602.62,127.44 602.91,127.73 603.21,128 603.51,128.25 603.81,128.48 604.1,128.69 604.4,128.88 604.7,129.06 604.99,129.23 605.29,129.38 605.59,129.52 605.88,129.65 606.18,129.76 606.48,129.87 606.78,129.97 607.07,130.06 607.37,130.14 607.67,130.22 607.96,130.29 608.26,130.36 608.56,130.41 608.85,130.47 609.15,130.52 609.45,130.56 609.75,130.61 610.04,130.64 610.34,130.68 610.64,130.71 610.93,130.74 611.23,130.77 611.53,130.79 611.82,130.82 612.12,130.84 612.42,130.86 612.72,130.87 613.01,130.89 613.31,130.9 613.61,130.92 613.9,130.93 614.2,130.94 614.5,130.95 614.79,130.96 615.09,130.97 615.39,130.98 615.69,130.98 615.98,130.99 616.28,131 616.58,131 616.87,131.01 617.17,131.01 617.47,131.02 617.76,131.02 618.06,131.03 618.36,131.03 618.66,131.03 618.95,131.03 619.25,131.04 619.55,131.04 619.84,131.04 620.14,131.04 620.44,131.05 620.73,131.05 621.03,131.05 621.33,131.05 621.63,131.05 621.92,131.05 622.22,131.05 622.52,131.05 622.81,131.06 623.11,131.06 623.41,131.06 623.7,131.06 624,131.06 624.3,131.06 624.6,131.06 624.89,131.06 625.19,131.06 625.49,131.06 625.78,131.06 626.08,131.06 626.38,131.06 626.67,131.06 626.97,131.06 627.27,131.06 627.57,131.06 627.86,131.06 628.16,131.06 628.46,131.06 628.75,131.06 629.05,131.06 629.35,131.06 629.64,131.06 629.94,131.06 630.24,131.06 630.54,131.06 630.83,131.06 631.13,131.06 631.43,131.06 631.72,131.06 632.02,131.06 632.32,131.06 632.61,131.06 632.91,131.06 633.21,131.06 633.51,131.06 633.8,131.06 634.1,131.06 634.4,131.06 634.69,131.06 634.99,131.06 635.29,131.06 635.58,131.06 635.88,131.06 636.18,131.06 636.48,131.06 636.77,131.06 637.07,131.06 637.37,131.06 637.66,131.06 637.96,131.06 638.26,131.06 638.55,131.06 638.85,131.06 639.15,131.06 639.45,131.06 639.74,131.06 640.04,131.06 640.34,131.06 640.63,131.06 640.93,131.06 641.23,131.06 641.52,131.06 641.82,131.06 642.12,131.06 642.42,131.06 642.71,131.06 643.01,131.06 643.31,131.06 643.6,131.06 643.9,131.06 644.2,131.06 644.49,131.06 644.79,131.06 645.09,131.06 645.39,131.06 645.68,131.06 645.98,131.06 646.28,131.06 646.57,131.06 646.87,131.06 647.17,131.06 647.46,131.06 647.76,131.06 648.06,131.06 648.36,131.06 648.65,131.06 648.95,131.06 649.25,131.06 649.54,131.06 649.84,131.06 650.14,131.06 650.43,131.06 650.73,131.06 651.03,131.06 651.32,131.06 651.62,131.06 651.92,131.06 652.22,131.06 652.51,131.06 652.81,131.06 653.11,131.06 653.4,131.06 653.7,131.06 654,131.06 654.29,131.06 654.59,131.06 654.89,131.06 655.19,131.06 655.48,131.06 655.78,131.06" fill="none" stroke="#000" stroke-width="1.6"/>
<path d="M525.1,33.4 V23.4 M522.3,23.4 H527.9" stroke="#333" stroke-width="1.2" fill="none"/>
<path d="M525.1,33.4 V43.3 M522.3,43.3 H527.9" stroke="#333" stroke-width="1.2" fill="none"/>
<path d="M557.68,28.9 V23.4 M554.88,23.4 H560.48" stroke="#333" stroke-width="1.2" fill="none"/>
<circle cx="525.1" cy="33.4" r="2.7" fill="#000" stroke="#000" stroke-width="1"/>
<circle cx="557.68" cy="28.9" r="2.7" fill="#000" stroke="#000" stroke-width="1"/>
<circle cx="566.62" cy="35.1" r="2.7" fill="#000" stroke="#000" stroke-width="1"/>
<circle cx="575.56" cy="36.7" r="2.7" fill="#000" stroke="#000" stroke-width="1"/>
<circle cx="584.5" cy="44.2" r="2.7" fill="#000" stroke="#000" stroke-width="1"/>
<circle cx="593.44" cy="95.9" r="2.7" fill="#000" stroke="#000" stroke-width="1"/>
<circle cx="602.38" cy="123.8" r="2.7" fill="#000" stroke="#000" stroke-width="1"/>
<circle cx="611.32" cy="127.1" r="2.7" fill="#000" stroke="#000" stroke-width="1"/>
<circle cx="620.26" cy="130.3" r="2.7" fill="#000" stroke="#000" stroke-width="1"/>
<circle cx="629.2" cy="130.8" r="2.7" fill="#000" stroke="#000" stroke-width="1"/>
<circle cx="638.14" cy="130.8" r="2.7" fill="#000" stroke="#000" stroke-width="1"/>
<circle cx="647.08" cy="130.8" r="2.7" fill="#000" stroke="#000" stroke-width="1"/>
<circle cx="656.02" cy="130.8" r="2.7" fill="#000" stroke="#000" stroke-width="1"/>
<g stroke="#000" stroke-width="1.8" fill="none">
<path d="M241.8,210.4 V378.5 H409.3"/>
<path d="M234.4,368.5 H241.8"/>
<path d="M251.7,378.5 V385.6"/>
<path d="M234.4,335.1 H241.8"/>
<path d="M285.3,378.5 V385.6"/>
<path d="M234.4,301.7 H241.8"/>
<path d="M318.9,378.5 V385.6"/>
<path d="M234.4,268.3 H241.8"/>
<path d="M352.5,378.5 V385.6"/>
<path d="M234.4,234.9 H241.8"/>
<path d="M386.1,378.5 V385.6"/>
</g>
<path d="M242.6,377.4 L399.6,221.5" stroke="#000" stroke-width="1.35" stroke-dasharray="2.2,1.5"/>
<g font-family="Liberation Sans, sans-serif" font-size="12.4" font-weight="bold" fill="#000">
<text x="231.6" y="372.9" text-anchor="end">0.01</text>
<text x="251.7" y="400.5" text-anchor="middle">0.01</text>
<text x="231.6" y="339.5" text-anchor="end">0.1</text>
<text x="285.3" y="400.5" text-anchor="middle">0.1</text>
<text x="231.6" y="306.1" text-anchor="end">1</text>
<text x="318.9" y="400.5" text-anchor="middle">1</text>
<text x="231.6" y="272.7" text-anchor="end">10</text>
<text x="352.5" y="400.5" text-anchor="middle">10</text>
<text x="231.6" y="239.3" text-anchor="end">100</text>
<text x="386.1" y="400.5" text-anchor="middle">100</text>
</g>
<g font-family="Liberation Sans, sans-serif" font-size="11.7" font-weight="bold" fill="#000">
<text x="325.3" y="418.7" text-anchor="middle" font-size="12">MIC (µM)</text>
<text transform="translate(199.4,295.3) rotate(-90)" text-anchor="middle">IC50 (µM)</text>
</g>
<path d="M257.9,368.4 V375.2 M254.7,375.2 H261.1" stroke="#e62a45" stroke-width="1.1" fill="none"/>
<path d="M257.9,355.8 V347.4 M254.7,347.4 H261.1" stroke="#e62a45" stroke-width="1.1" fill="none"/>
<path d="M257.9,355.8 V360.3 M254.7,360.3 H261.1" stroke="#e62a45" stroke-width="1.1" fill="none"/>
<path d="M268.1,330 V319.1 M264.9,319.1 H271.3" stroke="#e62a45" stroke-width="1.1" fill="none"/>
<path d="M278.2,344.4 V340.1 M275,340.1 H281.4" stroke="#e62a45" stroke-width="1.1" fill="none"/>
<path d="M278.2,351.3 V359 M275,359 H281.4" stroke="#e62a45" stroke-width="1.1" fill="none"/>
<path d="M288.4,325.3 V318.1 M285.2,318.1 H291.6" stroke="#e62a45" stroke-width="1.1" fill="none"/>
<polygon points="257.9,365.3 261.1,371.5 254.7,371.5" fill="none" stroke="#e62a45" stroke-width="1.2" stroke-linejoin="round"/>
<polygon points="257.9,352.7 261.1,358.9 254.7,358.9" fill="none" stroke="#e62a45" stroke-width="1.2" stroke-linejoin="round"/>
<polygon points="265.6,352.2 268.8,358.4 262.4,358.4" fill="none" stroke="#e62a45" stroke-width="1.2" stroke-linejoin="round"/>
<polygon points="268.2,347.7 271.4,353.9 265,353.9" fill="none" stroke="#e62a45" stroke-width="1.2" stroke-linejoin="round"/>
<polygon points="268.2,362.3 271.4,368.5 265,368.5" fill="none" stroke="#e62a45" stroke-width="1.2" stroke-linejoin="round"/>
<polygon points="268.1,326.9 271.3,333.1 264.9,333.1" fill="none" stroke="#e62a45" stroke-width="1.2" stroke-linejoin="round"/>
<polygon points="268.1,332.6 271.3,338.8 264.9,338.8" fill="none" stroke="#e62a45" stroke-width="1.2" stroke-linejoin="round"/>
<polygon points="278.2,330.1 281.4,336.3 275,336.3" fill="none" stroke="#e62a45" stroke-width="1.2" stroke-linejoin="round"/>
<polygon points="278.2,341.3 281.4,347.5 275,347.5" fill="none" stroke="#e62a45" stroke-width="1.2" stroke-linejoin="round"/>
<polygon points="278.2,348.2 281.4,354.4 275,354.4" fill="none" stroke="#e62a45" stroke-width="1.2" stroke-linejoin="round"/>
<polygon points="278.2,345.9 281.4,352.1 275,352.1" fill="none" stroke="#e62a45" stroke-width="1.2" stroke-linejoin="round"/>
<polygon points="288.4,322.2 291.6,328.4 285.2,328.4" fill="none" stroke="#e62a45" stroke-width="1.2" stroke-linejoin="round"/>
<polygon points="288.4,330.8 291.6,337 285.2,337" fill="none" stroke="#e62a45" stroke-width="1.2" stroke-linejoin="round"/>
<polygon points="298.5,314.6 301.7,320.8 295.3,320.8" fill="none" stroke="#e62a45" stroke-width="1.2" stroke-linejoin="round"/>
<polygon points="298.5,323.3 301.7,329.5 295.3,329.5" fill="none" stroke="#e62a45" stroke-width="1.2" stroke-linejoin="round"/>
<path d="M358.2,256.6 V250.8 M355,250.8 H361.4" stroke="#1ea94f" stroke-width="1.1" fill="none"/>
<path d="M358.2,256.6 V267.9 M355,267.9 H361.4" stroke="#1ea94f" stroke-width="1.1" fill="none"/>
<polygon points="389.3,238 392.8,231.2 385.8,231.2" fill="#1ea94f" stroke="#1ea94f" stroke-width="0.3" stroke-linejoin="round"/>
<polygon points="389.3,252.9 392.8,246.1 385.8,246.1" fill="#1ea94f" stroke="#1ea94f" stroke-width="0.3" stroke-linejoin="round"/>
<polygon points="358.2,260 361.7,253.2 354.7,253.2" fill="#1ea94f" stroke="#1ea94f" stroke-width="0.3" stroke-linejoin="round"/>
<polygon points="348.8,297.2 352.3,290.4 345.3,290.4" fill="#1ea94f" stroke="#1ea94f" stroke-width="0.3" stroke-linejoin="round"/>
<path d="M368.9,234.6 V230.7 M365.7,230.7 H372.1" stroke="#3a5dab" stroke-width="1.1" fill="none"/>
<path d="M368.9,234.6 V238.8 M365.7,238.8 H372.1" stroke="#3a5dab" stroke-width="1.1" fill="none"/>
<circle cx="318.3" cy="313.2" r="3.3" fill="none" stroke="#3a5dab" stroke-width="1.8"/>
<circle cx="368.9" cy="234.6" r="3.3" fill="none" stroke="#3a5dab" stroke-width="1.8"/>
<circle cx="389.3" cy="234.6" r="3.3" fill="none" stroke="#3a5dab" stroke-width="1.8"/>
<path d="M369.05,288.35 V281.3 M365.75,281.3 H372.35" stroke="#555" stroke-width="1.3" fill="none"/>
<path d="M369.05,288.35 V302.9 M365.75,302.9 H372.35" stroke="#555" stroke-width="1.3" fill="none"/>
<rect x="345.45" y="281.3" width="6.5" height="6.5" fill="none" stroke="#000" stroke-width="1.6"/>
<rect x="355.45" y="281.45" width="6.5" height="6.5" fill="none" stroke="#000" stroke-width="1.6"/>
<rect x="355.45" y="288.65" width="6.5" height="6.5" fill="none" stroke="#000" stroke-width="1.6"/>
<rect x="365.8" y="285.1" width="6.5" height="6.5" fill="none" stroke="#000" stroke-width="1.6"/>
<polygon points="438.5,230.9 441.8,237.1 435.2,237.1" fill="none" stroke="#e62a45" stroke-width="1.2" stroke-linejoin="round"/>
<polygon points="438.4,258.4 441.9,251.6 434.9,251.6" fill="#1ea94f" stroke="#1ea94f" stroke-width="0.3" stroke-linejoin="round"/>
<circle cx="438.2" cy="275.4" r="3.3" fill="none" stroke="#3a5dab" stroke-width="1.8"/>
<rect x="434.15" y="292.95" width="6.5" height="6.5" fill="none" stroke="#000" stroke-width="1.8"/>
<g font-family="Liberation Sans, sans-serif" font-size="11.5" fill="#000">
<text x="457.6" y="237.8">Fluoroquinolone</text>
<text x="457.6" y="258.7">Macrolide</text>
<text x="457.6" y="279.1">Anti-cancer</text>
<text x="457.6" y="300.1">Rifamycin</text>
</g>
<g stroke="#000" stroke-width="1.8" fill="none">
<path d="M140,433.56 V615.9 H618.4"/>
<path d="M135.9,610.29 H140"/>
<path d="M135.9,605.6 H140"/>
<path d="M135.9,601.54 H140"/>
<path d="M135.9,597.96 H140"/>
<path d="M132,594.75 H140"/>
<path d="M135.9,573.66 H140"/>
<path d="M135.9,561.33 H140"/>
<path d="M135.9,552.58 H140"/>
<path d="M135.9,545.79 H140"/>
<path d="M135.9,540.24 H140"/>
<path d="M135.9,535.55 H140"/>
<path d="M135.9,531.49 H140"/>
<path d="M135.9,527.91 H140"/>
<path d="M132,524.7 H140"/>
<path d="M135.9,503.61 H140"/>
<path d="M135.9,491.28 H140"/>
<path d="M135.9,482.53 H140"/>
<path d="M135.9,475.74 H140"/>
<path d="M135.9,470.19 H140"/>
<path d="M135.9,465.5 H140"/>
<path d="M135.9,461.44 H140"/>
<path d="M135.9,457.86 H140"/>
<path d="M132,454.65 H140"/>
<path d="M135.9,433.56 H140"/>
<path d="M135.9,433.56 H140"/>
<path d="M155.05,615.9 V621"/>
<path d="M170.15,615.9 V621"/>
<path d="M185.25,615.9 V621"/>
<path d="M200.35,615.9 V621"/>
<path d="M215.45,615.9 V621"/>
<path d="M230.55,615.9 V621"/>
<path d="M245.65,615.9 V621"/>
<path d="M260.75,615.9 V621"/>
<path d="M275.85,615.9 V621"/>
<path d="M290.95,615.9 V621"/>
<path d="M306.05,615.9 V621"/>
<path d="M321.15,615.9 V621"/>
<path d="M336.25,615.9 V621"/>
<path d="M351.35,615.9 V621"/>
<path d="M366.45,615.9 V621"/>
<path d="M381.55,615.9 V621"/>
<path d="M396.65,615.9 V621"/>
<path d="M411.75,615.9 V621"/>
<path d="M426.85,615.9 V621"/>
<path d="M441.95,615.9 V621"/>
<path d="M457.05,615.9 V621"/>
<path d="M472.15,615.9 V621"/>
<path d="M487.25,615.9 V621"/>
<path d="M502.35,615.9 V621"/>
<path d="M517.45,615.9 V621"/>
<path d="M532.55,615.9 V621"/>
<path d="M547.65,615.9 V621"/>
<path d="M562.75,615.9 V621"/>
<path d="M577.85,615.9 V621"/>
<path d="M592.95,615.9 V621"/>
<path d="M608.05,615.9 V621"/>
</g>
<g stroke="#000" stroke-width="1.3" stroke-dasharray="3,1.5" fill="none">
<path d="M143,504.4 H607.7"/>
<path d="M143,546.6 H607.7"/>
</g>
<g stroke="#222" stroke-width="1.1" stroke-dasharray="1.1,1.55" fill="none">
<path d="M207.8,433 V615"/>
<path d="M268.2,433 V615"/>
<path d="M570.2,433 V615"/>
</g>
<g font-family="Liberation Sans, sans-serif" font-size="12.4" font-weight="bold" fill="#000">
<text x="130.5" y="599.15" text-anchor="end">0.1</text>
<text x="130.5" y="529.1" text-anchor="end">1</text>
<text x="130.5" y="459.05" text-anchor="end">10</text>
</g>
<text font-family="Liberation Sans, sans-serif" font-size="14.9" font-weight="bold" transform="translate(103.2,525) rotate(-90)" text-anchor="middle">MIC:IC50</text>
<g font-family="Liberation Sans, sans-serif" font-size="11.5" fill="#000">
<text x="158.55" y="632" text-anchor="end" transform="rotate(-45 158.55 632)">Rifabutin</text>
<text x="173.65" y="632" text-anchor="end" transform="rotate(-45 173.65 632)">FCE-22250</text>
<text x="188.75" y="632" text-anchor="end" transform="rotate(-45 188.75 632)">Rifapentine</text>
<text x="203.85" y="632" text-anchor="end" transform="rotate(-45 203.85 632)">Rifampicin</text>
<text x="218.95" y="632" text-anchor="end" transform="rotate(-45 218.95 632)">Solithromycin</text>
<text x="234.05" y="632" text-anchor="end" transform="rotate(-45 234.05 632)">Josamycin</text>
<text x="249.15" y="632" text-anchor="end" transform="rotate(-45 249.15 632)">Midecamycin</text>
<text x="264.25" y="632" text-anchor="end" transform="rotate(-45 264.25 632)">Rosamicin</text>
<text x="279.35" y="632" text-anchor="end" transform="rotate(-45 279.35 632)">Sparfloxacin</text>
<text x="294.45" y="632" text-anchor="end" transform="rotate(-45 294.45 632)">Garenoxacin</text>
<text x="309.55" y="632" text-anchor="end" transform="rotate(-45 309.55 632)">Moxifloxacin</text>
<text x="324.65" y="632" text-anchor="end" transform="rotate(-45 324.65 632)">Enrofloxacin</text>
<text x="339.75" y="632" text-anchor="end" transform="rotate(-45 339.75 632)">Trovafloxacin</text>
<text x="354.85" y="632" text-anchor="end" transform="rotate(-45 354.85 632)">Clinafloxacin</text>
<text x="369.95" y="632" text-anchor="end" transform="rotate(-45 369.95 632)">Difloxacin</text>
<text x="385.05" y="632" text-anchor="end" transform="rotate(-45 385.05 632)">Danofloxacin</text>
<text x="400.15" y="632" text-anchor="end" transform="rotate(-45 400.15 632)">Ciprofloxacin</text>
<text x="415.25" y="632" text-anchor="end" transform="rotate(-45 415.25 632)">Ofloxacin</text>
<text x="430.35" y="632" text-anchor="end" transform="rotate(-45 430.35 632)">Gatifloxacin</text>
<text x="445.45" y="632" text-anchor="end" transform="rotate(-45 445.45 632)">Besifloxacin</text>
<text x="460.55" y="632" text-anchor="end" transform="rotate(-45 460.55 632)">Gemifloxacin</text>
<text x="475.65" y="632" text-anchor="end" transform="rotate(-45 475.65 632)">Rosoxacin</text>
<text x="490.75" y="632" text-anchor="end" transform="rotate(-45 490.75 632)">Sitafloxacin</text>
<text x="505.85" y="632" text-anchor="end" transform="rotate(-45 505.85 632)">Finafloxacin</text>
<text x="520.95" y="632" text-anchor="end" transform="rotate(-45 520.95 632)">Tosufloxacin</text>
<text x="536.05" y="632" text-anchor="end" transform="rotate(-45 536.05 632)">Sarafloxacin</text>
<text x="551.15" y="632" text-anchor="end" transform="rotate(-45 551.15 632)">Ulifloxacin</text>
<text x="566.25" y="632" text-anchor="end" transform="rotate(-45 566.25 632)">Prulifloxacin</text>
<text x="581.35" y="632" text-anchor="end" transform="rotate(-45 581.35 632)">Mitomycin C</text>
<text x="596.45" y="632" text-anchor="end" transform="rotate(-45 596.45 632)">Satraplatin</text>
<text x="611.55" y="632" text-anchor="end" transform="rotate(-45 611.55 632)">Evofosfamide</text>
</g>
<rect x="151.85" y="443.55" width="6.4" height="6.4" fill="none" stroke="#111" stroke-width="1.3"/>
<rect x="166.95" y="458" width="6.4" height="6.4" fill="none" stroke="#111" stroke-width="1.3"/>
<rect x="182.05" y="471.3" width="6.4" height="6.4" fill="none" stroke="#111" stroke-width="1.3"/>
<rect x="197.15" y="493.9" width="6.4" height="6.4" fill="none" stroke="#111" stroke-width="1.3"/>
<polygon points="215.45,480.4 218.95,473.6 211.95,473.6" fill="#1ea94f" stroke="#1ea94f" stroke-width="0.3" stroke-linejoin="round"/>
<polygon points="230.55,488 234.05,481.2 227.05,481.2" fill="#1ea94f" stroke="#1ea94f" stroke-width="0.3" stroke-linejoin="round"/>
<polygon points="245.65,517.5 249.15,510.7 242.15,510.7" fill="#1ea94f" stroke="#1ea94f" stroke-width="0.3" stroke-linejoin="round"/>
<polygon points="260.75,536.9 264.25,530.1 257.25,530.1" fill="#1ea94f" stroke="#1ea94f" stroke-width="0.3" stroke-linejoin="round"/>
<polygon points="275.85,493.7 279.2,500.3 272.5,500.3" fill="none" stroke="#e62a45" stroke-width="1.2" stroke-linejoin="round"/>
<polygon points="290.95,499.6 294.3,506.2 287.6,506.2" fill="none" stroke="#e62a45" stroke-width="1.2" stroke-linejoin="round"/>
<polygon points="306.05,503.7 309.4,510.3 302.7,510.3" fill="none" stroke="#e62a45" stroke-width="1.2" stroke-linejoin="round"/>
<polygon points="321.15,505.2 324.5,511.8 317.8,511.8" fill="none" stroke="#e62a45" stroke-width="1.2" stroke-linejoin="round"/>
<polygon points="336.25,505.75 339.6,512.35 332.9,512.35" fill="none" stroke="#e62a45" stroke-width="1.2" stroke-linejoin="round"/>
<polygon points="351.35,507.7 354.7,514.3 348,514.3" fill="none" stroke="#e62a45" stroke-width="1.2" stroke-linejoin="round"/>
<polygon points="366.45,511.85 369.8,518.45 363.1,518.45" fill="none" stroke="#e62a45" stroke-width="1.2" stroke-linejoin="round"/>
<polygon points="381.55,516.1 384.9,522.7 378.2,522.7" fill="none" stroke="#e62a45" stroke-width="1.2" stroke-linejoin="round"/>
<polygon points="396.65,516.7 400,523.3 393.3,523.3" fill="none" stroke="#e62a45" stroke-width="1.2" stroke-linejoin="round"/>
<polygon points="411.75,518.9 415.1,525.5 408.4,525.5" fill="none" stroke="#e62a45" stroke-width="1.2" stroke-linejoin="round"/>
<polygon points="426.85,524.5 430.2,531.1 423.5,531.1" fill="none" stroke="#e62a45" stroke-width="1.2" stroke-linejoin="round"/>
<polygon points="441.95,530.4 445.3,537 438.6,537" fill="none" stroke="#e62a45" stroke-width="1.2" stroke-linejoin="round"/>
<polygon points="457.05,531.9 460.4,538.5 453.7,538.5" fill="none" stroke="#e62a45" stroke-width="1.2" stroke-linejoin="round"/>
<polygon points="472.15,533.5 475.5,540.1 468.8,540.1" fill="none" stroke="#e62a45" stroke-width="1.2" stroke-linejoin="round"/>
<polygon points="487.25,535.9 490.6,542.5 483.9,542.5" fill="none" stroke="#e62a45" stroke-width="1.2" stroke-linejoin="round"/>
<polygon points="502.35,536.3 505.7,542.9 499,542.9" fill="none" stroke="#e62a45" stroke-width="1.2" stroke-linejoin="round"/>
<polygon points="517.45,537.1 520.8,543.7 514.1,543.7" fill="none" stroke="#e62a45" stroke-width="1.2" stroke-linejoin="round"/>
<polygon points="532.55,539.8 535.9,546.4 529.2,546.4" fill="none" stroke="#e62a45" stroke-width="1.2" stroke-linejoin="round"/>
<polygon points="547.65,557.2 551,563.8 544.3,563.8" fill="none" stroke="#e62a45" stroke-width="1.2" stroke-linejoin="round"/>
<polygon points="562.75,568.6 566.1,575.2 559.4,575.2" fill="none" stroke="#e62a45" stroke-width="1.2" stroke-linejoin="round"/>
<circle cx="577.85" cy="500.6" r="3.3" fill="none" stroke="#3a5dab" stroke-width="1.8"/>
<circle cx="592.95" cy="516.3" r="3.3" fill="none" stroke="#3a5dab" stroke-width="1.8"/>
<circle cx="608.05" cy="559.7" r="3.3" fill="none" stroke="#3a5dab" stroke-width="1.8"/>
</svg>
</body></html>
